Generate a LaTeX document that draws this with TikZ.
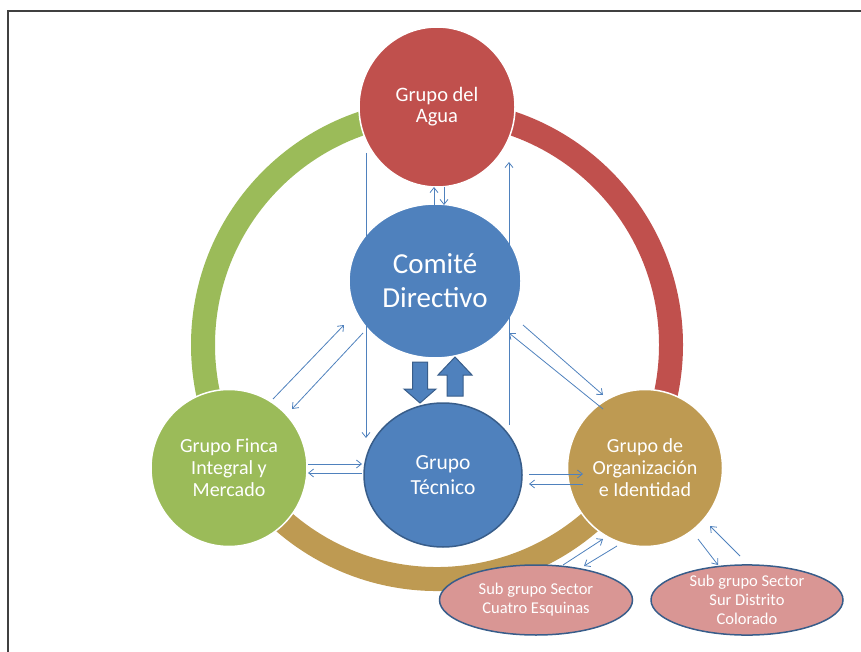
\documentclass[tikz,border=0pt]{standalone}
\usepackage{fontspec}
\setmainfont{Carlito}
\usetikzlibrary{arrows.meta,shapes.geometric}
\definecolor{cred}{HTML}{C0504D}
\definecolor{cgreen}{HTML}{9BBB59}
\definecolor{cblue}{HTML}{4F81BD}
\definecolor{cdblue}{HTML}{385D8A}
\definecolor{cgold}{HTML}{BE9A52}
\definecolor{cpink}{HTML}{D99694}
\definecolor{cframe}{HTML}{404040}
\begin{document}
\begin{tikzpicture}[x=1pt,y=-1pt,
  grp/.style={ellipse, inner sep=0pt, align=center, text=white, draw=white, line width=1.5pt},
  bordered/.style={grp, draw=cdblue, line width=1.5pt},
  ring/.style={line width=24pt},
  link/.style={draw=cblue, line width=0.8pt, -{Straight Barb[length=5pt,width=8pt]}},
  block/.style={fill=cblue, draw=cdblue, line width=1pt, line join=miter},
  frameline/.style={draw=cframe, line width=2pt}
]
\useasboundingbox (0,0) rectangle (861,652);
% frame
\coordinate (fTL) at (7.7,11);
\coordinate (fTR) at (861,11);
\coordinate (fBL) at (7.7,652);
\draw[frameline] (fBL) -- (fTL) -- (fTR);
% ring
\coordinate (rc) at (437,345);
\draw[ring, cgreen] (rc) ++(-90:234) arc[start angle=-90, end angle=-210, radius=234];
\draw[ring, cred] (rc) ++(-90:234) arc[start angle=-90, end angle=30, radius=234];
\draw[ring, cgold] (rc) ++(30:234) arc[start angle=30, end angle=150, radius=234];
% nodes
\node[grp, fill=cred, minimum width=156pt, minimum height=160pt, font=\fontsize{20.5}{21}\selectfont] (agua) at (437,107) {Grupo del\\Agua};
\node[grp, fill=cblue, minimum width=172pt, minimum height=154pt, font=\fontsize{29}{34}\selectfont] (comite) at (435,281) {Comité\\Directivo};
\node[bordered, fill=cblue, minimum width=158pt, minimum height=144pt, font=\fontsize{21.5}{25}\selectfont] (tecnico) at (443,475) {Grupo\\Técnico};
\node[grp, fill=cgreen, minimum width=156pt, minimum height=157pt, font=\fontsize{20}{22}\selectfont] (finca) at (229,468) {Grupo Finca\\Integral y\\Mercado};
\node[grp, fill=cgold, minimum width=155pt, minimum height=157pt, font=\fontsize{20}{22}\selectfont] (org) at (645,468) {Grupo de\\Organización\\e Identidad};
\node[bordered, fill=cpink, minimum width=193pt, minimum height=70pt, font=\fontsize{16.5}{19}\selectfont] (cuatro) at (536,600) {Sub grupo Sector\\Cuatro Esquinas};
\node[bordered, fill=cpink, minimum width=192pt, minimum height=67pt, font=\fontsize{16.5}{19}\selectfont] (sur) at (747,600) {Sub grupo Sector\\Sur Distrito\\Colorado};
% block arrows
\draw[block] (412.5,362) -- (427.5,362) -- (427.5,389) -- (436,389) -- (420,403) -- (404,389) -- (412.5,389) -- cycle;
\draw[block] (447,396) -- (463,396) -- (463,375) -- (472,375) -- (455,357) -- (438,375) -- (447,375) -- cycle;
% connector end points
\coordinate (a1s) at (366,153);  \coordinate (a1e) at (366,438);
\coordinate (a2s) at (509,425);  \coordinate (a2e) at (509,162);
\coordinate (a3s) at (434,205);  \coordinate (a3e) at (434,187);
\coordinate (a4s) at (444,187);  \coordinate (a4e) at (444,205);
\coordinate (a5s) at (273,399);  \coordinate (a5e) at (344,325);
\coordinate (a6s) at (363,333);  \coordinate (a6e) at (292,409);
\coordinate (a7s) at (523,325);  \coordinate (a7e) at (603,395);
\coordinate (a8s) at (603,409);  \coordinate (a8e) at (509,333);
\coordinate (a9s) at (308,464);  \coordinate (a9e) at (362,464);
\coordinate (a10s) at (362,473); \coordinate (a10e) at (308,473);
\coordinate (a11s) at (529,474); \coordinate (a11e) at (583,474);
\coordinate (a12s) at (583,484); \coordinate (a12e) at (529,484);
\coordinate (a13s) at (563,565); \coordinate (a13e) at (603,539);
\coordinate (a14s) at (617,546); \coordinate (a14e) at (584,566);
\coordinate (a15s) at (698,539); \coordinate (a15e) at (718,565);
\coordinate (a16s) at (740,556); \coordinate (a16e) at (710,526);
\foreach \i in {1,...,16} {\draw[link] (a\i s) -- (a\i e);}
\end{tikzpicture}
\end{document}
